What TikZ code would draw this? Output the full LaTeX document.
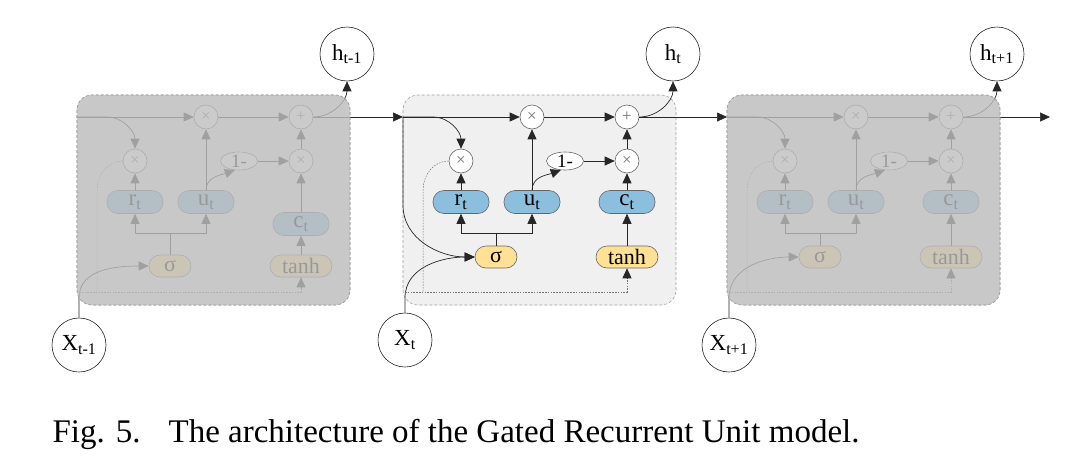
\documentclass[tikz,border=0pt]{standalone}
\usepackage{fontspec}
\setmainfont{Liberation Serif}
\usetikzlibrary{arrows.meta,shapes.geometric}

\definecolor{gatefill}{HTML}{8CBEDE}
\definecolor{actfill}{HTML}{FFE196}
\definecolor{cellfill}{HTML}{F0F0F0}
\definecolor{nodeedge}{HTML}{666666}
\definecolor{boxedge}{HTML}{A0A0A0}

\tikzset{
  wire/.style={draw=black!85, line width=0.7pt},
  arr/.style={wire, -{Triangle[length=10pt,width=9pt]}},
  hidden/.style={draw=black!55, line width=0.5pt, dash pattern=on 1.6pt off 1.2pt},
  op/.style={circle, draw=nodeedge, fill=white, line width=0.6pt, minimum size=24pt,
    inner sep=0pt, text=black!55, font=\fontsize{17}{17}\selectfont},
  gate/.style={rectangle, rounded corners=11pt, draw=nodeedge, fill=gatefill, line width=0.6pt,
    minimum width=56pt, minimum height=23pt, inner sep=0pt, font=\fontsize{23}{23}\selectfont},
  act/.style={gate, fill=actfill, minimum height=22pt, font=\fontsize{22}{22}\selectfont},
  state/.style={circle, draw=black!85, fill=white, line width=0.6pt, minimum size=54pt,
    inner sep=0pt, font=\fontsize{23}{23}\selectfont},
  onem/.style={ellipse, draw=nodeedge, fill=white, line width=0.6pt, minimum width=37pt,
    minimum height=18pt, inner sep=0pt, font=\fontsize{19}{19}\selectfont},
  cellbox/.style={rounded corners=15pt, fill=cellfill, draw=boxedge, dash pattern=on 3pt off 2pt, line width=0.6pt},
  shade/.style={rounded corners=15pt, fill=black!25, fill opacity=0.8, draw=boxedge,
    dash pattern=on 3pt off 2pt, line width=0.6pt},
}

% one GRU cell: #1 prefix, #2 left edge, #3 y of sigma/tanh, #4 y of c_t,
% #5 y of input circle, #6 output label, #7 input label
\newcommand\grucell[7]{%
  \draw[cellbox] (#2,-95) rectangle ++(273,-210);
  \coordinate (#1in) at (#2,-117);
  \node[op] (#1mu) at ({#2+129},-117) {×};
  \node[op] (#1ad) at ({#2+224},-117) {+};
  \node[op] (#1mr) at ({#2+58},-161) {×};
  \node[onem] (#1om) at ({#2+162},-161) {1-};
  \node[op] (#1mc) at ({#2+224},-161) {×};
  \node[gate] (#1r) at ({#2+58},-202) {r\textsubscript{t}};
  \node[gate] (#1u) at ({#2+129},-202) {u\textsubscript{t}};
  \node[gate] (#1c) at ({#2+224},-#4) {c\textsubscript{t}};
  \node[act, minimum width=42pt] (#1sg) at ({#2+93},-#3) {σ};
  \node[act, minimum width=62pt] (#1th) at ({#2+224},-#3) {tanh};
  \node[state] (#1h) at ({#2+270},-54) {#6};
  \node[state] (#1x) at ({#2+2},-#5) {#7};
  \coordinate (#1sp) at ({#2+93},-233);
  \coordinate (#1xb) at ({#2+2},-292);
  \coordinate (#1dv) at ({#2+20},-292);
  % state path and gates
  \draw[arr] (#1in) -- (#1mu);
  \draw[arr] (#1mu) -- (#1ad);
  \draw[arr] (#1in) -- ({#2+30},-117) to[out=0,in=90] (#1mr.north);
  \draw[arr] (#1r) -- (#1mr);
  \draw[arr] (#1u) -- (#1mu);
  \draw[arr] (#1u.north) to[out=90,in=200] (#1om.245);
  \draw[arr] (#1om) -- (#1mc);
  \draw[arr] (#1c) -- (#1mc);
  \draw[arr] (#1mc) -- (#1ad);
  \draw[arr] (#1th) -- (#1c);
  \draw[wire] (#1sg) -- (#1sp);
  \draw[arr] (#1sp) -| (#1r.south);
  \draw[arr] (#1sp) -| (#1u.south);
  \draw[arr] (#1ad.east) to[out=0,in=-90] (#1h.south);
  % input to the gates
  \draw[arr] (#1x.north) -- ({#2+2},-298) to[out=90,in=180] (#1sg.west);
  % reset state and input to the candidate
  \draw[hidden] (#1mr.west) to[out=180,in=90] ({#2+20},-190) -- (#1dv);
  \draw[hidden] (#1xb) -- (#1th.south |- #1xb) -- ([yshift=-8pt]#1th.south);
  \draw[arr] ([yshift=-10pt]#1th.south) -- (#1th.south);
}

\begin{document}
\begin{tikzpicture}[x=1pt,y=1pt]
  \useasboundingbox (0,0) rectangle (1076,-466);

  \grucell{A}{77}{266}{224}{345}{h\textsubscript{t-1}}{X\textsubscript{t-1}}
  \grucell{B}{403}{257}{202}{340}{h\textsubscript{t}}{X\textsubscript{t}}
  \grucell{C}{727}{257}{202}{345}{h\textsubscript{t+1}}{X\textsubscript{t+1}}

  % previous state also feeds the gates of the current cell
  \draw[arr] (Bin) -- (403,-205) to[out=-90,in=180] (Bsg.west);

  % hidden state passed along the chain
  \draw[arr] (Aad) -- (Bin);
  \draw[arr] (Bad) -- (Cin);
  \coordinate (out) at (1050,-117);
  \draw[arr] (Cad) -- (out);

  % neighbouring time steps drawn faded
  \draw[shade] (77,-95) rectangle ++(273,-210);
  \draw[shade] (727,-95) rectangle ++(273,-210);

  \node[anchor=base west, font=\fontsize{33}{33}\selectfont] (cap) at (49,-442)
    {Fig. 5.\hspace{0.85em}The architecture of the Gated Recurrent Unit model.};
\end{tikzpicture}
\end{document}
